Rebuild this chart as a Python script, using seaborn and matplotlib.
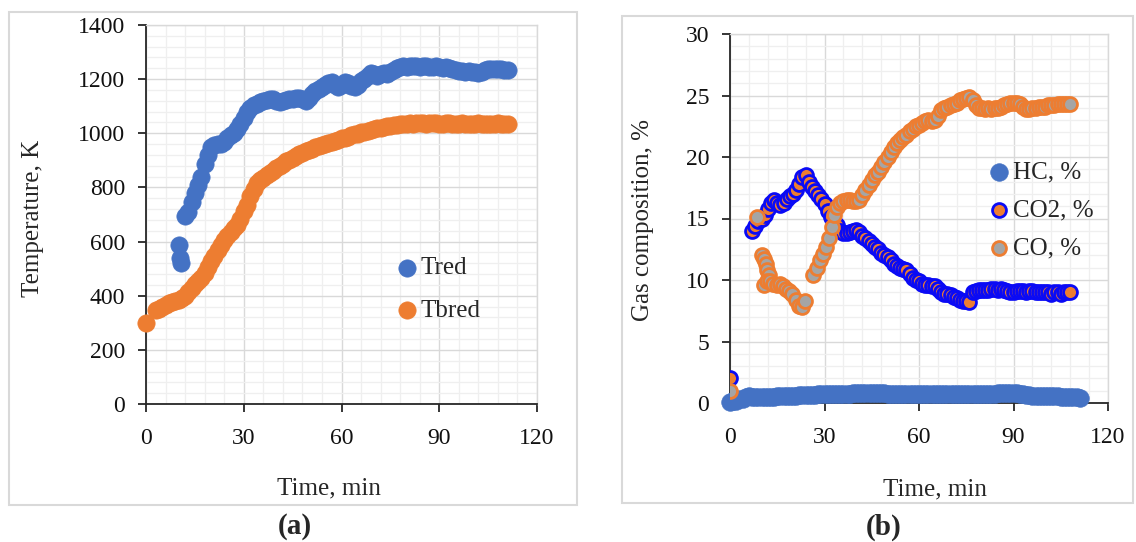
import matplotlib
matplotlib.use("Agg")
import matplotlib.pyplot as plt
from matplotlib.patches import Rectangle
from matplotlib.ticker import MultipleLocator
import seaborn as sns

# ---------------- data ----------------
# Panel (a): temperatures, K
TRED_T_A = [10.0, 10.5, 10.8]
TRED_V_A = [587, 538, 520]
TRED_START = 12
TRED_V = [695, 710, 745, 780, 810, 840, 885, 920, 950, 958,
          962, 960, 968, 982, 992, 1002, 1015, 1035, 1058, 1078,
          1092, 1103, 1110, 1115, 1118, 1122, 1125, 1126, 1120, 1115,
          1118, 1122, 1125, 1126, 1130, 1132, 1125, 1118, 1130, 1145,
          1155, 1162, 1170, 1178, 1185, 1188, 1180, 1172, 1180, 1188,
          1185, 1175, 1170, 1178, 1192, 1202, 1212, 1222, 1218, 1212,
          1218, 1224, 1218, 1226, 1235, 1242, 1245, 1247, 1245, 1248,
          1249, 1247, 1246, 1249, 1247, 1244, 1246, 1249, 1246, 1243,
          1244, 1240, 1236, 1233, 1231, 1229, 1227, 1229, 1227, 1225,
          1224, 1228, 1232, 1237, 1236, 1238, 1236, 1237, 1235, 1234]

TBRED_T_A = [0.0]
TBRED_V_A = [298]
TBRED_START = 3
TBRED_V = [348, 352, 360, 367, 373, 378, 382, 386, 392, 398,
           412, 430, 442, 455, 466, 484, 506, 528, 548, 568,
           586, 604, 620, 636, 650, 662, 685, 712, 735, 770,
           795, 815, 826, 836, 845, 853, 862, 872, 880, 888,
           896, 903, 910, 916, 922, 928, 933, 938, 943, 948,
           952, 956, 960, 965, 969, 973, 977, 981, 984, 988,
           992, 996, 999, 1003, 1006, 1009, 1012, 1015, 1018, 1021,
           1023, 1026, 1028, 1030, 1032, 1034, 1035, 1036, 1037, 1036,
           1037, 1038, 1037, 1036, 1037, 1038, 1037, 1036, 1036, 1037,
           1037, 1036, 1035, 1036, 1037, 1036, 1036, 1035, 1036, 1037,
           1036, 1036, 1035, 1036, 1036, 1037, 1036, 1035, 1036]

# Panel (b): gas composition, %
HC_START = 0
HC_V = [0.10, 0.15, 0.20, 0.30, 0.35, 0.45, 0.55, 0.50, 0.45, 0.45,
        0.45, 0.45, 0.50, 0.50, 0.50, 0.55, 0.55, 0.60, 0.60, 0.60,
        0.60, 0.60, 0.65, 0.65, 0.65, 0.65, 0.65, 0.65, 0.70, 0.70,
        0.70, 0.70, 0.70, 0.70, 0.72, 0.72, 0.75, 0.75, 0.75, 0.78,
        0.80, 0.80, 0.82, 0.85, 0.85, 0.82, 0.80, 0.80, 0.78, 0.78,
        0.75, 0.75, 0.72, 0.72, 0.70, 0.70, 0.70, 0.70, 0.70, 0.70,
        0.70, 0.70, 0.70, 0.70, 0.70, 0.70, 0.70, 0.70, 0.70, 0.70,
        0.70, 0.70, 0.70, 0.70, 0.70, 0.70, 0.72, 0.72, 0.72, 0.72,
        0.72, 0.72, 0.72, 0.75, 0.75, 0.78, 0.80, 0.80, 0.80, 0.78,
        0.78, 0.80, 0.75, 0.70, 0.65, 0.62, 0.60, 0.60, 0.58, 0.58,
        0.55, 0.55, 0.55, 0.55, 0.55, 0.52, 0.50, 0.50, 0.48, 0.45,
        0.45, 0.42]

CO2_T_A = [0.0]
CO2_V_A = [2.0]
CO2_START = 7
CO2_V = [14.0, 14.4, 14.8, 15.0, 15.3, 15.8, 16.3, 16.5, 16.3, 16.1,
         16.3, 16.6, 16.8, 17.0, 17.3, 17.8, 18.4, 18.5, 18.0, 17.6,
         17.2, 16.9, 16.6, 16.2, 15.6, 15.1, 14.8, 14.5, 14.0, 13.8,
         13.8, 13.9, 14.0, 14.1, 13.9, 13.6, 13.4, 13.2, 12.9, 12.7,
         12.5, 12.2, 12.0, 11.9, 11.6, 11.3, 11.1, 11.0, 10.9, 10.8,
         10.5, 10.2, 10.0, 9.9, 9.7, 9.6, 9.6, 9.5, 9.5, 9.3,
         9.0, 8.9, 8.9, 8.8, 8.6, 8.5, 8.4, 8.3, 8.3, 8.2,
         9.0, 9.1, 9.2, 9.2, 9.2, 9.2, 9.3, 9.3, 9.2, 9.3,
         9.2, 9.1, 9.0, 9.0, 9.1, 9.1, 9.1, 9.0, 9.1, 9.1,
         9.0, 9.0, 9.0, 9.0, 9.0, 8.9, 9.0, 9.0, 8.9, 9.0,
         9.0, 9.0]

CO_T_A = [0.0, 8.5, 10.3, 10.8, 11.3, 11.8, 12.3, 10.8, 11.8, 12.8,
          13.8, 14.8, 15.8, 16.8, 17.8, 18.8, 19.8, 20.8, 21.8, 22.8,
          23.8, 26.5, 27.5, 28.5, 29.5, 30.5, 31.5, 32.3]
CO_V_A = [1.0, 15.1, 12.0, 11.7, 11.3, 10.8, 10.4, 9.6, 9.9, 9.9,
          9.7, 9.6, 9.7, 9.5, 9.3, 9.1, 8.9, 8.4, 7.9, 7.8,
          8.3, 10.4, 11.0, 11.6, 12.1, 12.7, 13.4, 14.3]
CO_START = 33
CO_V = [15.3, 15.9, 16.3, 16.4, 16.5, 16.5, 16.4, 16.4, 16.5, 16.9,
        17.3, 17.7, 18.1, 18.5, 18.8, 19.2, 19.6, 20.0, 20.4, 20.8,
        21.1, 21.4, 21.6, 21.8, 22.1, 22.3, 22.5, 22.6, 22.8, 22.9,
        23.0, 22.9, 23.0, 23.3, 23.8, 24.0, 24.1, 24.2, 24.3, 24.4,
        24.6, 24.7, 24.8, 24.9, 24.6, 24.2, 24.0, 24.0, 23.9, 24.0,
        23.9, 24.0, 24.0, 24.1, 24.2, 24.3, 24.4, 24.4, 24.4, 24.3,
        24.1, 23.9, 23.9, 24.0, 24.0, 24.1, 24.1, 24.1, 24.2, 24.2,
        24.2, 24.3, 24.3, 24.3, 24.3, 24.3]

X_TICKS = [0, 30, 60, 90, 120]
Y_TICKS_A = [0, 200, 400, 600, 800, 1000, 1200, 1400]
Y_TICKS_B = [0, 5, 10, 15, 20, 25, 30]


def series(t_a, v_a, start, vals):
    t = list(t_a) + [start + i for i in range(len(vals))]
    return t, list(v_a) + list(vals)


# ---------------- style ----------------
sns.set_theme(style="white")
plt.rcParams["font.family"] = ["Liberation Serif", "DejaVu Serif"]

BLUE = "#4472C4"
ORANGE = "#ED7D31"
GRAY = "#A5A5A5"
EDGE_BLUE = "#0A0AF5"
AXIS = "#262626"
MAJ = "#D9D9D9"
MIN = "#EFEFEF"
TICK_FS = 17
LAB_FS = 18
LEG_FS = 18

fig = plt.figure(figsize=(11.36, 5.42), dpi=100)
W, H = 1136.0, 542.0


def px_axes(x0, y0, x1, y1):
    return fig.add_axes([x0 / W, 1 - y1 / H, (x1 - x0) / W, (y1 - y0) / H])


axA = px_axes(146, 25, 537, 404)
axB = px_axes(730, 34, 1108, 403)


def style_axes(ax, ymax, ymaj, ymin):
    ax.set_xlim(0, 120)
    ax.set_ylim(0, ymax)
    ax.xaxis.set_major_locator(MultipleLocator(30))
    ax.xaxis.set_minor_locator(MultipleLocator(6))
    ax.yaxis.set_major_locator(MultipleLocator(ymaj))
    ax.yaxis.set_minor_locator(MultipleLocator(ymin))
    ax.grid(which="major", color=MAJ, lw=1.0)
    ax.grid(which="minor", color=MIN, lw=0.9)
    ax.set_axisbelow(True)
    for s in ("left", "bottom"):
        ax.spines[s].set_color(AXIS)
        ax.spines[s].set_linewidth(1.3)
    for s in ("top", "right"):
        ax.spines[s].set_color(MAJ)
        ax.spines[s].set_linewidth(1.0)
    ax.tick_params(which="major", direction="out", length=6, width=1.3,
                   color=AXIS, labelsize=TICK_FS, labelcolor="#111111",
                   left=True, bottom=True)
    ax.tick_params(axis="y", which="major", pad=9)
    ax.tick_params(axis="x", which="major", pad=11)
    ax.tick_params(which="minor", length=0)
    ax.set_facecolor("white")


# ---------------- panel (a) ----------------
style_axes(axA, 1400, 200, 40)
axA.set_xticks(X_TICKS)
axA.set_yticks(Y_TICKS_A)

tb_t, tb_v = series(TBRED_T_A, TBRED_V_A, TBRED_START, TBRED_V)
tr_t, tr_v = series(TRED_T_A, TRED_V_A, TRED_START, TRED_V)
sns.scatterplot(x=tr_t, y=tr_v, ax=axA, s=155, color=BLUE, edgecolor=BLUE,
                linewidth=0.5, label="Tred", zorder=3, clip_on=False)
sns.scatterplot(x=tb_t, y=tb_v, ax=axA, s=155, color=ORANGE, edgecolor=ORANGE,
                linewidth=0.5, label="Tbred", zorder=3, clip_on=False)

axA.set_xlabel("Time, min", fontsize=LAB_FS)
axA.set_ylabel("Temperature, K", fontsize=LAB_FS)
axA.xaxis.label.set_va("center")
axA.yaxis.label.set_va("center")
axA.xaxis.set_label_coords(0.468, -0.224)
axA.yaxis.set_label_coords(-0.289, 0.49)

legA = axA.legend(loc="upper left", bbox_to_anchor=(0.641, 0.389),
                  frameon=False, fontsize=LEG_FS, handlelength=0.8,
                  handletextpad=0.15, labelspacing=0.8, borderpad=0,
                  borderaxespad=0)

# ---------------- panel (b) ----------------
style_axes(axB, 30, 5, 1)
axB.set_xticks(X_TICKS)
axB.set_yticks(Y_TICKS_B)

hc_t, hc_v = series([], [], HC_START, HC_V)
co2_t, co2_v = series(CO2_T_A, CO2_V_A, CO2_START, CO2_V)
co_t, co_v = series(CO_T_A, CO_V_A, CO_START, CO_V)

sns.scatterplot(x=hc_t, y=hc_v, ax=axB, s=160, color=BLUE, edgecolor=BLUE,
                linewidth=0.5, label="HC, %", zorder=3, clip_on=False)
sns.scatterplot(x=co2_t, y=co2_v, ax=axB, s=100, color=ORANGE,
                edgecolor=EDGE_BLUE, linewidth=2.0, label="CO2, %", zorder=3)
sns.scatterplot(x=co_t, y=co_v, ax=axB, s=100, color=GRAY,
                edgecolor=ORANGE, linewidth=2.0, label="CO, %", zorder=4)

axB.set_xlabel("Time, min", fontsize=LAB_FS)
axB.set_ylabel("Gas composition, %", fontsize=LAB_FS)
axB.xaxis.label.set_va("center")
axB.yaxis.label.set_va("center")
axB.xaxis.set_label_coords(0.542, -0.233)
axB.yaxis.set_label_coords(-0.230, 0.496)

legB = axB.legend(loc="upper left", bbox_to_anchor=(0.686, 0.656),
                  frameon=False, fontsize=LEG_FS, handlelength=0.8,
                  handletextpad=0.15, labelspacing=0.62, borderpad=0,
                  borderaxespad=0)

# ---------------- panel frames and captions ----------------
for (x0, y0, x1, y1) in [(9, 12, 577, 505), (622, 16, 1133, 503)]:
    fig.add_artist(Rectangle((x0 / W, 1 - y1 / H), (x1 - x0) / W, (y1 - y0) / H,
                             transform=fig.transFigure, fill=False,
                             edgecolor=MAJ, lw=1.5))

fig.text(295 / W, 1 - 527 / H, "(a)", ha="center", va="center",
         fontsize=21, fontweight="bold")
fig.text(884 / W, 1 - 527 / H, "(b)", ha="center", va="center",
         fontsize=21, fontweight="bold")

fig.savefig("out.png", dpi=100, facecolor="white")
